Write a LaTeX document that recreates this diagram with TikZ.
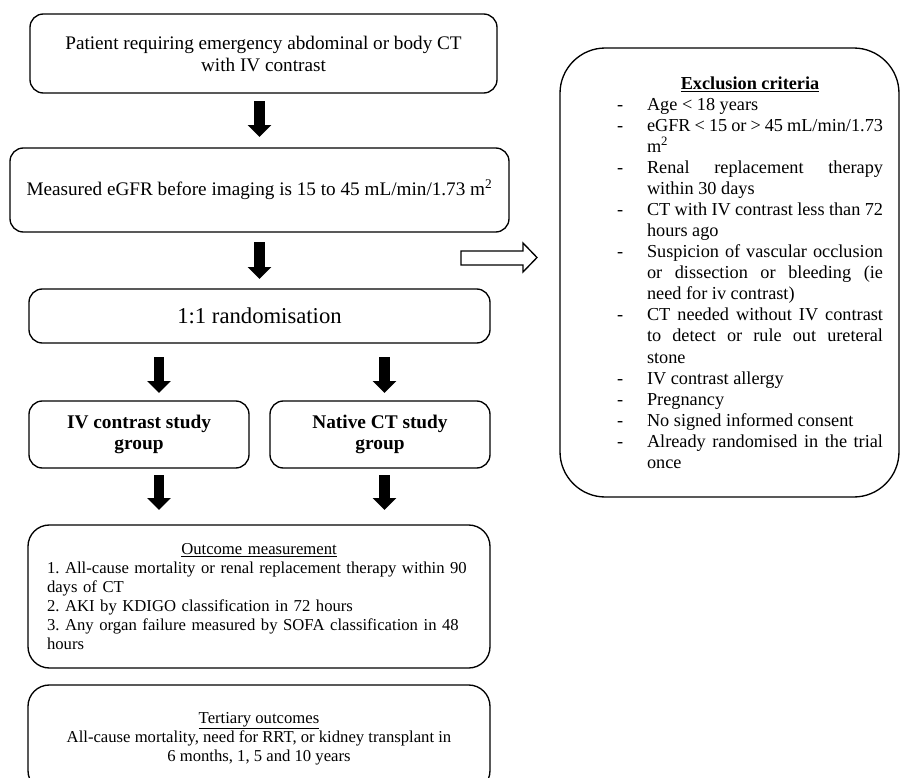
\documentclass[tikz,border=0pt]{standalone}
\usepackage{fontspec}
\setmainfont{Liberation Serif}
\usetikzlibrary{positioning,arrows.meta}

\newcommand\exitem[1]{\par\noindent\hangindent=22.5pt\hangafter=1\makebox[22.5pt][l]{-}#1}

\tikzset{
    box/.style={draw=black, line width=1pt, rounded corners=10pt, align=center, outer sep=0pt, inner sep=2pt},
    grpbox/.style={box, minimum width=165pt, minimum height=50.25pt, font=\bfseries\fontsize{14.5}{15.75}\selectfont},
    outbox/.style={box, rounded corners=16pt, minimum width=346.5pt, font=\frenchspacing\fontsize{12.5}{14.25}\selectfont},
    exbox/.style={draw=black, line width=1pt, rounded corners=34pt, minimum width=254.25pt, minimum height=336.75pt},
    exlist/.style={text width=199.5pt, align=justify, inner sep=0pt, font=\fontsize{13.7}{15.8}\selectfont},
    fat/.style={line width=8pt, -{Triangle[width=17.25pt,length=9pt]}},
    hollowarrow/.style={draw=black, line width=1pt, fill=white, line join=miter},
}

\begin{document}
\begin{tikzpicture}[x=0.75pt, y=-0.75pt]
    \useasboundingbox (0,0) rectangle (901,778);
    \clip (0,0) rectangle (901,778);

    \node [box, minimum width=350.25pt, minimum height=59.25pt, font=\fontsize{14.4}{16.5}\selectfont] (top) at (263.5,53.5) {Patient requiring emergency abdominal or body CT\\with IV contrast};
    \node [box, below=41.25pt of top, xshift=-3pt, minimum width=374.25pt, minimum height=63pt, font=\fontsize{14.4}{17}\selectfont] (egfr) {Measured eGFR before imaging is 15 to 45 mL/min/1.73 m\textsuperscript{2}};
    \node [box, below=42.75pt of egfr, minimum width=345.75pt, minimum height=40.5pt, font=\fontsize{17}{20}\selectfont] (rand) {1:1 randomisation};

    \node [grpbox, below right=43.5pt and 0pt of rand.south west] (ivgrp) {IV contrast study\\group};
    \node [grpbox, below left=43.5pt and 0pt of rand.south east] (natgrp) {Native CT study\\group};

    \node [outbox, below right=42.75pt and 0pt of ivgrp.south west, xshift=-0.75pt, minimum height=107.25pt, text width=318pt, align=left] (outcome) {\makebox[\hsize]{\underline{Outcome measurement}}\\1. All-cause mortality or renal replacement therapy within 90\\days of CT\\2. AKI by KDIGO classification in 72 hours\\3. Any organ failure measured by SOFA classification in 48\\hours};
    \node [outbox, below=12.75pt of outcome, minimum height=80.25pt] (tert) {\underline{Tertiary outcomes}\\All-cause mortality, need for RRT, or kidney transplant in\\6 months, 1, 5 and 10 years};

    \node [exbox] (excl) at (729.5,272.5) {};
    \node [exlist] (exitems) at ([xshift=15.4pt]excl.center) {\makebox[\hsize]{\textbf{\underline{Exclusion criteria}}}
        \exitem{Age < 18 years}
        \exitem{eGFR < 15 or > 45 mL/min/1.73\linebreak m\textsuperscript{2}}
        \exitem{Renal replacement therapy\linebreak within 30 days}
        \exitem{CT with IV contrast less than 72\linebreak hours ago}
        \exitem{Suspicion of vascular occlusion\linebreak or dissection or bleeding (ie\linebreak need for iv contrast)}
        \exitem{CT needed without IV contrast\linebreak to detect or rule out ureteral\linebreak stone}
        \exitem{IV contrast allergy}
        \exitem{Pregnancy}
        \exitem{No signed informed consent}
        \exitem{Already randomised in the trial\linebreak once}\par};

    \draw [hollowarrow] (461,251) -- (523,251) -- (523,243) -- (537,257.5) -- (523,272) -- (523,265) -- (461,265) -- cycle;

    \draw [fat, shorten <=6pt, shorten >=8.25pt] (top.south -| egfr.north) -- (egfr.north);
    \draw [fat, shorten <=7.5pt, shorten >=7.5pt] (egfr.south) -- (rand.north);
    \draw [fat, shorten <=10.5pt, shorten >=6pt] ([xshift=15pt]ivgrp.north |- rand.south) -- ([xshift=15pt]ivgrp.north);
    \draw [fat, shorten <=10.5pt, shorten >=6pt] ([xshift=3.4pt]natgrp.north |- rand.south) -- ([xshift=3.4pt]natgrp.north);
    \draw [fat, shorten <=5.25pt, shorten >=11.25pt] ([xshift=15pt]ivgrp.south) -- ([xshift=15pt]ivgrp.south |- outcome.north);
    \draw [fat, shorten <=5.25pt, shorten >=11.25pt] ([xshift=3.4pt]natgrp.south) -- ([xshift=3.4pt]natgrp.south |- outcome.north);
\end{tikzpicture}
\end{document}
